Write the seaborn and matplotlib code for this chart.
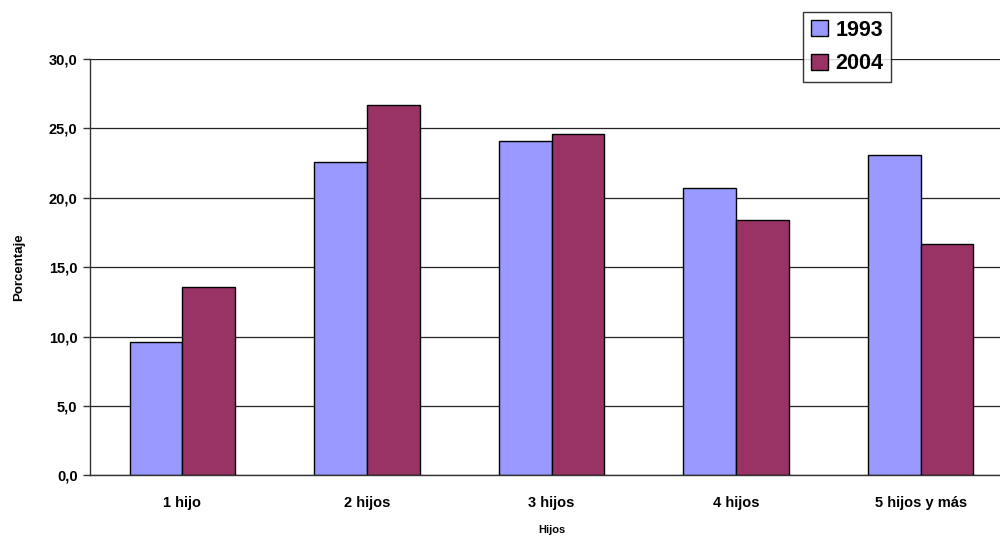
import matplotlib
matplotlib.use("Agg")
import numpy as np
import pandas as pd
import seaborn as sns
from matplotlib import pyplot as plt
from matplotlib.patches import Patch
from matplotlib.ticker import FuncFormatter, MultipleLocator

categories = ["1 hijo", "2 hijos", "3 hijos", "4 hijos", "5 hijos y más"]
years = ["1993", "2004"]
values_1993 = [9.6, 22.6, 24.1, 20.7, 23.1]
values_2004 = [13.6, 26.7, 24.6, 18.4, 16.7]
colors = ["#9999FF", "#993366"]

data = pd.DataFrame({
    "Hijos": categories * 2,
    "Año": [years[0]] * len(categories) + [years[1]] * len(categories),
    "Porcentaje": values_1993 + values_2004,
})

sns.set_style("white")
plt.rcParams["font.family"] = ["Liberation Sans", "DejaVu Sans"]
plt.rcParams["text.color"] = "black"
plt.rcParams["axes.labelcolor"] = "black"
plt.rcParams["xtick.color"] = "black"
plt.rcParams["ytick.color"] = "black"

fig = plt.figure(figsize=(10, 5.38), dpi=100)
ax = fig.add_axes([0.09, 0.1165, 0.923, 0.7738])

sns.barplot(data=data, x="Hijos", y="Porcentaje", hue="Año", order=categories,
            hue_order=years, palette=colors, width=0.5714, gap=0,
            edgecolor="black", linewidth=1, saturation=1, errorbar=None,
            legend=False, ax=ax)

ax.set_xlim(-0.5, 4.5)
ax.set_ylim(0, 30)
ax.yaxis.set_major_locator(MultipleLocator(5))
ax.yaxis.set_major_formatter(FuncFormatter(lambda v, p: f"{v:.1f}".replace(".", ",")))
ax.grid(axis="y", color="#222222", linewidth=0.9)
ax.set_axisbelow(True)

for side in ["top", "right"]:
    ax.spines[side].set_visible(False)
for side in ["left", "bottom"]:
    ax.spines[side].set_color("#333333")
    ax.spines[side].set_linewidth(1)

ax.set_xticks(range(len(categories)))
ax.set_xticklabels(categories, fontsize=10.5, fontweight="bold")
ax.tick_params(axis="x", which="major", length=0, pad=15)
ax.set_xticks([0.5, 1.5, 2.5, 3.5], minor=True)
ax.tick_params(axis="x", which="minor", length=5, width=1, color="#333333", direction="out")
ax.tick_params(axis="y", length=5, width=1, color="#333333", direction="out",
               left=True, labelsize=10.5, pad=4)
for lbl in ax.get_yticklabels():
    lbl.set_fontweight("bold")

ax.set_xlabel("Hijos", fontsize=8, fontweight="bold", labelpad=11)
ax.set_ylabel("Porcentaje", fontsize=9.5, fontweight="bold", labelpad=17)

handles = [Patch(facecolor=c, edgecolor="black", linewidth=1) for c in colors]
leg = fig.legend(handles, years, loc="upper left", bbox_to_anchor=(0.803, 1 - 12 / 538),
                 prop={"weight": "bold", "size": 15.5}, frameon=True, fancybox=False,
                 edgecolor="black", handlelength=0.8, handleheight=0.8,
                 handletextpad=0.35, borderpad=0.35, labelspacing=0.6,
                 borderaxespad=0)
leg.get_frame().set_linewidth(1)

fig.savefig("out.png", dpi=100, facecolor="white")
